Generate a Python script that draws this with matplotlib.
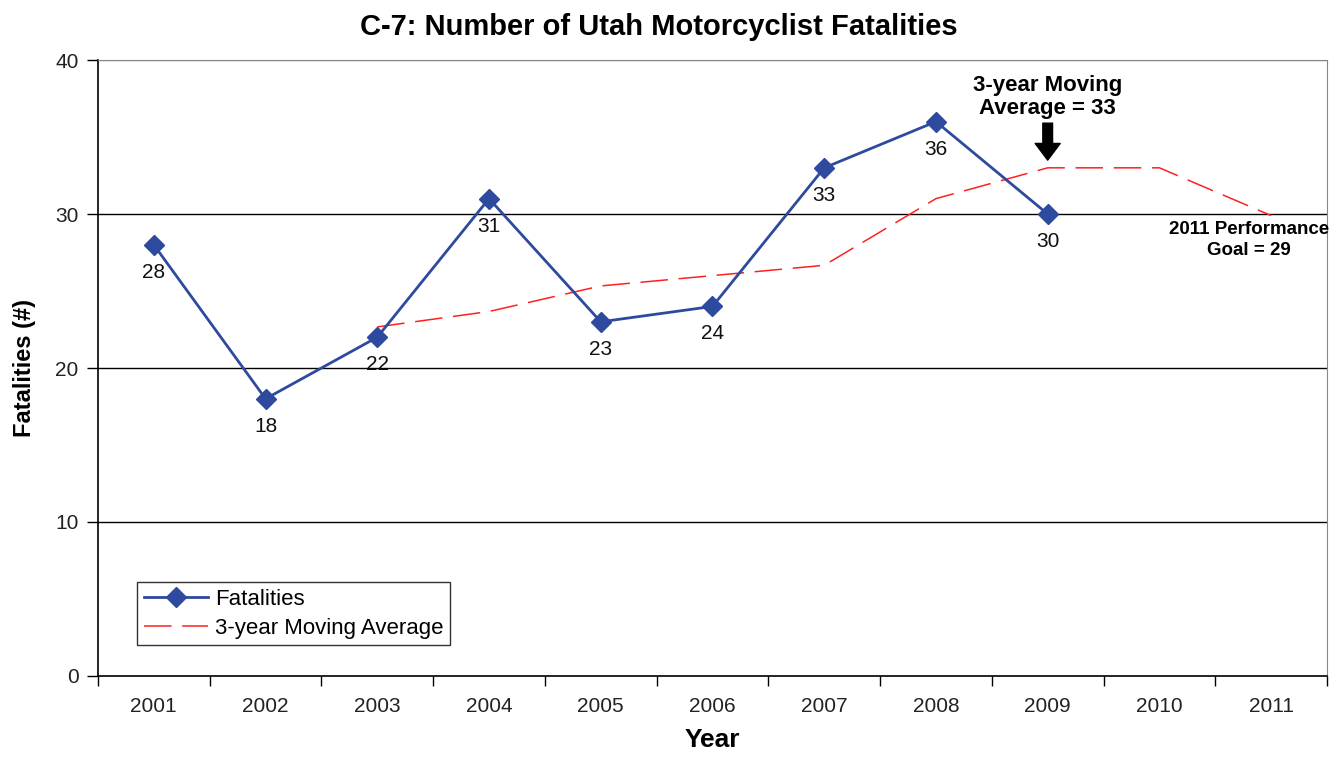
import matplotlib.pyplot as plt
import numpy as np

plt.rcParams['font.family'] = ['Liberation Sans', 'DejaVu Sans']

years = ['2001', '2002', '2003', '2004', '2005', '2006', '2007', '2008', '2009', '2010', '2011']
fatalities = [28, 18, 22, 31, 23, 24, 33, 36, 30]
moving_avg = [22.67, 23.67, 25.33, 26.0, 26.67, 31.0, 33.0, 33.0, 29.9]  # 2003..2011
ma_start = 2  # index of 2003

blue = '#2E4A9E'
red = '#FF2020'

fig = plt.figure(figsize=(13.38, 7.58), dpi=100)
ax = fig.add_axes([0.0732, 0.1082, 0.9186, 0.8126])

x = np.arange(len(years))
ax.plot(x[:len(fatalities)], fatalities, color=blue, lw=2, marker='D', ms=10,
        label='Fatalities', zorder=4)
ax.plot(x[ma_start:ma_start + len(moving_avg)], moving_avg, color=red, lw=1.1,
        dashes=(18, 7), label='3-year Moving Average', zorder=3)

for xi, v in zip(x, fatalities):
    ax.annotate(str(v), (xi, v), xytext=(0, -13), textcoords='offset points',
                ha='center', va='top', fontsize=15, color='#111111')

ax.set_xlim(-0.5, len(years) - 0.5)
ax.set_ylim(0, 40)
ax.set_yticks([0, 10, 20, 30, 40])
ax.set_xticks(x)
ax.set_xticklabels(years)
ax.set_xticks(np.arange(-0.5, len(years), 1), minor=True)
ax.tick_params(axis='x', which='major', length=0, pad=15, labelsize=15, labelcolor='#222222')
ax.tick_params(axis='x', which='minor', length=7, direction='out', width=1)
ax.tick_params(axis='y', length=8, width=1, labelsize=15, labelcolor='#222222', pad=6)

for y in [10, 20, 30]:
    ax.axhline(y, color='black', lw=1, zorder=1)
ax.axhline(40, color='#888888', lw=1, zorder=1)
ax.spines['top'].set_color('#888888')
ax.spines['right'].set_color('#888888')
ax.spines['left'].set_linewidth(1.2)
ax.spines['bottom'].set_linewidth(1.2)

fig.text(0.4925, 0.964, 'C-7: Number of Utah Motorcyclist Fatalities', ha='center', va='center',
         fontsize=21, fontweight='bold')
ax.set_xlabel('Year', fontsize=19, fontweight='bold', labelpad=9)
ax.set_ylabel('Fatalities (#)', fontsize=17, fontweight='bold', labelpad=14)

# annotations
ax.annotate('', xy=(8.0, 33.5), xytext=(8.0, 35.9),
            arrowprops=dict(facecolor='black', edgecolor='black', width=7, headwidth=18, headlength=12))
ax.text(8.0, 37.6, '3-year Moving\nAverage = 33', ha='center', va='center',
        fontsize=16, fontweight='bold', linespacing=1.15)
ax.text(9.8, 28.3, '2011 Performance\nGoal = 29', ha='center', va='center',
        fontsize=13.5, fontweight='bold', linespacing=1.35,
        family=['Liberation Sans Narrow', 'Liberation Sans'])

leg = ax.legend(loc='lower left', bbox_to_anchor=(0.032, 0.05), borderaxespad=0, fontsize=16,
                frameon=True, fancybox=False, edgecolor='black', handlelength=2.9,
                borderpad=0.3, labelspacing=0.35, handletextpad=0.3)
leg.get_frame().set_linewidth(1)

fig.savefig('out.png', dpi=100)
